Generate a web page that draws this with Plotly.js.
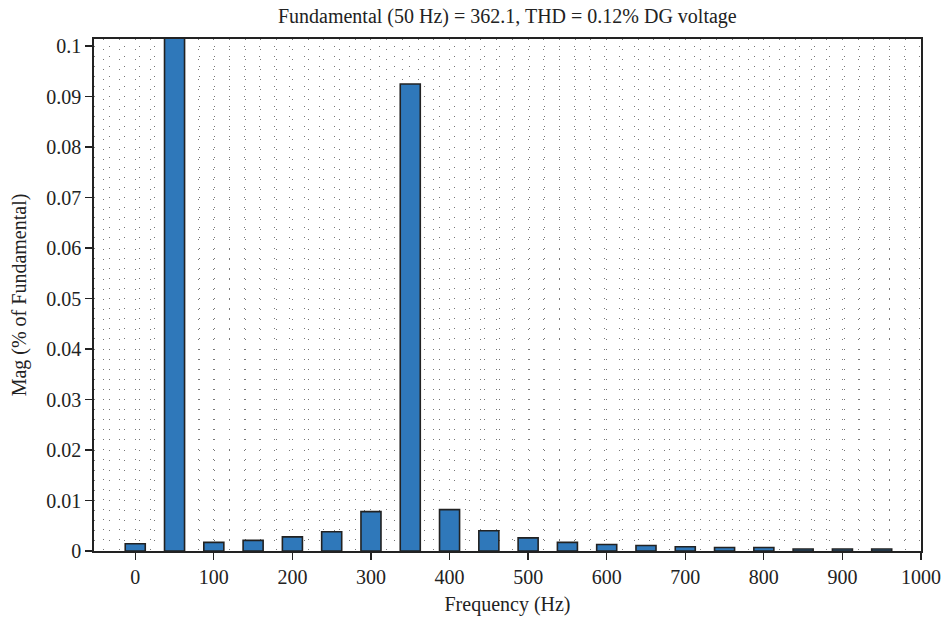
<!DOCTYPE html>
<html>
<head>
<meta charset="utf-8">
<script src="https://cdn.plot.ly/plotly-3.0.1.min.js"></script>
<style>html,body{margin:0;padding:0;background:#fff;}#chart{width:943px;height:618px;}</style>
</head>
<body>
<div id="chart"></div>
<script>
const frequencies = [0, 50, 100, 150, 200, 250, 300, 350, 400, 450, 500, 550, 600, 650, 700, 750, 800, 850, 900, 950];
const magnitudes = [0.00145, 100, 0.0017, 0.0021, 0.0028, 0.0038, 0.0078, 0.0925, 0.0082, 0.0040, 0.0026, 0.0017, 0.0013, 0.0011, 0.00085, 0.0007, 0.0007, 0.0004, 0.0004, 0.0004];
const xTickVals = [0, 100, 200, 300, 400, 500, 600, 700, 800, 900, 1000];
const yTickVals = [0, 0.01, 0.02, 0.03, 0.04, 0.05, 0.06, 0.07, 0.08, 0.09, 0.1];
const yTickText = ['0', '0.01', '0.02', '0.03', '0.04', '0.05', '0.06', '0.07', '0.08', '0.09', '0.1'];
const titleText = 'Fundamental (50 Hz) = 362.1, THD = 0.12% DG voltage';

const font = {family: 'Liberation Serif, DejaVu Serif, serif', size: 20, color: '#222'};
const gridDash = '1px,9px';
const gridColor = '#777';

const trace = {
  type: 'bar',
  x: frequencies,
  y: magnitudes,
  width: 25.5,
  marker: {color: '#2f78ba', line: {color: '#222', width: 1.6}},
  hoverinfo: 'x+y'
};

const layout = {
  width: 943, height: 618,
  margin: {l: 94, r: 22, t: 39, b: 67},
  paper_bgcolor: '#fff', plot_bgcolor: '#fff',
  font: font,
  showlegend: false,
  title: {text: titleText, font: font, x: 0.538, xanchor: 'center', y: 0.974, yanchor: 'middle'},
  xaxis: {
    range: [-52.5, 1000],
    tickvals: xTickVals,
    ticks: 'outside', ticklen: 7, tickcolor: '#222', tickwidth: 1.3,
    showline: true, linecolor: '#222', linewidth: 1.8, mirror: true,
    showgrid: true, gridcolor: gridColor, griddash: gridDash, gridwidth: 1,
    minor: {dtick: 20, tick0: 0, showgrid: true, gridcolor: gridColor, griddash: gridDash, gridwidth: 1, ticks: ''},
    zeroline: false,
    tickfont: font,
    title: {text: 'Frequency (Hz)', font: font, standoff: 10}
  },
  yaxis: {
    range: [0, 0.1014],
    tickvals: yTickVals, ticktext: yTickText,
    ticks: 'outside', ticklen: 7, tickcolor: '#222', tickwidth: 1.3,
    showline: true, linecolor: '#222', linewidth: 1.8, mirror: true,
    showgrid: true, gridcolor: gridColor, griddash: '1px,14px', gridwidth: 1,
    minor: {dtick: 0.002, tick0: 0, showgrid: true, gridcolor: gridColor, griddash: '1px,14px', gridwidth: 1, ticks: ''},
    zeroline: false,
    tickfont: font,
    title: {text: 'Mag (% of Fundamental)', font: font, standoff: 14}
  }
};

Plotly.newPlot('chart', [trace], layout, {displayModeBar: false, staticPlot: true});
</script>
</body>
</html>
